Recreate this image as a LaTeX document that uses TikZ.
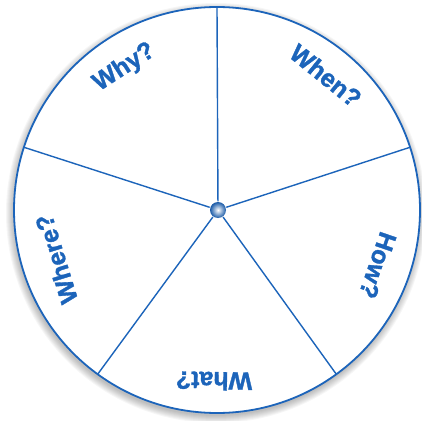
\documentclass[tikz,border=0pt]{standalone}
\usepackage{fontspec}
\setmainfont{Liberation Sans}
\newfontfamily\qfont{Liberation Sans Bold}[FakeBold=1.3]
\definecolor{wheelblue}{RGB}{28,100,186}
\begin{document}
\begin{tikzpicture}[x=1pt,y=1pt,line width=1.4pt,
  qword/.style={font=\qfont\fontsize{25}{25}\selectfont,text=wheelblue}]
\useasboundingbox (-217,-210) rectangle (205,210);
% soft shadow
\foreach \k in {1,...,8}{
  \fill[black,opacity=.035] (-1,-3) circle (202+\k);
}
\fill[white] (0,0) circle (203);
\draw[wheelblue,line width=1.8pt] (0,0) circle (203);
\node[circle,minimum size=16pt,inner sep=0pt,inner color=white,outer color=wheelblue!90!black] (hub) at (1,0) {};
\foreach \a [count=\i] in {90,18,-54,-126,162}
  \coordinate (rim\i) at (\a:203);
\foreach \i in {1,...,5}
  \draw[wheelblue] (hub) -- (rim\i);
\foreach \a/\r/\n/\t in {123/170/why/Why?,51/173/when/When?,-19/170/how/How?,-91/171/what/What?,197/168/where/Where?}
  \node[qword,rotate=\a-90] (\n) at (\a:\r) {\t};
\end{tikzpicture}
\end{document}
